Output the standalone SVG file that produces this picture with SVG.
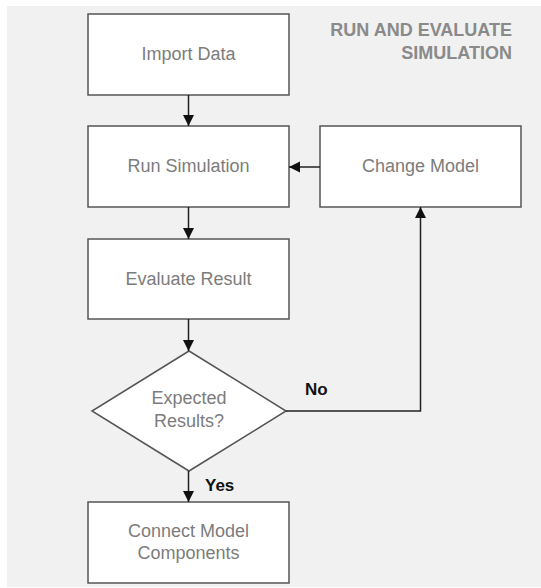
<svg xmlns="http://www.w3.org/2000/svg" width="541" height="588" viewBox="0 0 541 588">
<style>
.bg{fill:#f1f1f1}
.box{fill:#fff;stroke:#555;stroke-width:1.5}
.t{font-family:"Liberation Sans",Arial,sans-serif;font-size:18px;fill:#7c7c7c;text-anchor:middle}
.title{font-family:"Liberation Sans",Arial,sans-serif;font-size:18px;font-weight:bold;fill:#8a8a8a;text-anchor:end}
.lbl{font-family:"Liberation Sans",Arial,sans-serif;font-size:17px;font-weight:bold;fill:#111}
.c{fill:none;stroke:#222;stroke-width:1.5}
</style>
<defs>
<marker id="ah" viewBox="0 0 10 10" refX="10" refY="5" markerWidth="7.5" markerHeight="8" markerUnits="strokeWidth" orient="auto">
<path d="M0,0 L10,5 L0,10 z" fill="#111"/>
</marker>
</defs>
<rect class="bg" x="7" y="6" width="534" height="581"/>
<g id="title">
<text class="title" x="512" y="36">RUN AND EVALUATE</text>
<text class="title" x="512" y="59">SIMULATION</text>
</g>
<g id="import-data">
<rect class="box" x="88" y="14" width="201" height="81"/>
<text class="t" x="188.5" y="60">Import Data</text>
</g>
<g id="run-simulation">
<rect class="box" x="88" y="126" width="201" height="81"/>
<text class="t" x="188.5" y="172">Run Simulation</text>
</g>
<g id="change-model">
<rect class="box" x="320" y="126" width="201" height="81"/>
<text class="t" x="420.5" y="172">Change Model</text>
</g>
<g id="evaluate-result">
<rect class="box" x="88" y="239" width="201" height="80"/>
<text class="t" x="188.5" y="285">Evaluate Result</text>
</g>
<g id="expected-results">
<polygon class="box" points="189,351 286,411 189,471 92,411"/>
<text class="t" x="189" y="404">Expected</text>
<text class="t" x="189" y="427">Results?</text>
</g>
<g id="connect-model-components">
<rect class="box" x="88" y="502" width="201" height="81"/>
<text class="t" x="188.5" y="537">Connect Model</text>
<text class="t" x="188.5" y="559">Components</text>
</g>
<g id="connectors">
<line class="c" x1="188.5" y1="95" x2="188.5" y2="126" marker-end="url(#ah)"/>
<line class="c" x1="320" y1="167" x2="289" y2="167" marker-end="url(#ah)"/>
<line class="c" x1="188.5" y1="207" x2="188.5" y2="239" marker-end="url(#ah)"/>
<line class="c" x1="188.5" y1="319" x2="188.5" y2="351" marker-end="url(#ah)"/>
<polyline class="c" points="286,411 420.5,411 420.5,207" marker-end="url(#ah)"/>
<line class="c" x1="188.5" y1="471" x2="188.5" y2="502" marker-end="url(#ah)"/>
<text class="lbl" x="305" y="395">No</text>
<text class="lbl" x="205" y="491">Yes</text>
</g>
</svg>
